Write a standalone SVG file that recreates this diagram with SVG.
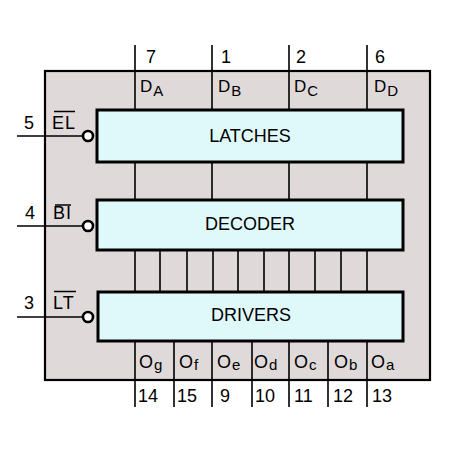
<svg xmlns="http://www.w3.org/2000/svg" width="459" height="457" viewBox="0 0 459 457">
<style>
.t{font-family:"Liberation Sans",Arial,sans-serif;fill:#000}
.big{font-size:18px}
.lab{font-size:17px}
.sub{font-size:15px}
.blk{fill:#dff9fb;stroke:#000;stroke-width:3}
.w{stroke:#000;stroke-width:1.6;fill:none}
.bub{fill:#fff;stroke:#000;stroke-width:2.6}
</style>
<rect width="459" height="457" fill="#fff"/>
<g id="package">
<rect x="45" y="71" width="385" height="309" fill="#dfd9d9" stroke="#000" stroke-width="2.2"/>
</g>
<g id="connectors">
<path class="w" d="M135 45V110M212 45V110M289 45V110M367 45V110"/>
<path class="w" d="M135 162V200M212 162V200M289 162V200M367 162V200"/>
<path class="w" d="M135 250V292M160 250V292M187 250V292M213 250V292M238 250V292M264 250V292M289 250V292M315 250V292M341 250V292M367 250V292"/>
<path class="w" d="M135 341V407M174 341V407M212 341V407M252 341V407M289 341V407M328 341V407M367 341V407"/>
<path class="w" d="M17 136H83M17 226H83M17 317H83"/>
<path class="w" d="M54 111.5H75M55 205H71M54 291.5H76"/>
</g>
<g id="latches">
<rect class="blk" x="97" y="110" width="306" height="52"/>
<text class="t big" x="250" y="142" text-anchor="middle">LATCHES</text>
</g>
<g id="decoder">
<rect class="blk" x="97" y="200" width="306" height="50"/>
<text class="t big" x="250" y="229.5" text-anchor="middle">DECODER</text>
</g>
<g id="drivers">
<rect class="blk" x="98" y="292" width="305" height="49"/>
<text class="t big" x="251" y="321" text-anchor="middle">DRIVERS</text>
</g>
<g id="inputs">
<circle class="bub" cx="88" cy="136" r="5"/>
<circle class="bub" cx="88" cy="226" r="5"/>
<circle class="bub" cx="88" cy="317" r="5"/>
<text class="t big" x="24" y="128.5">5</text>
<text class="t big" x="52" y="128.5" letter-spacing="1">EL</text>
<text class="t big" x="25" y="218.5">4</text>
<text class="t big" x="53" y="218.5" letter-spacing="1">BI</text>
<text class="t big" x="24" y="309">3</text>
<text class="t big" x="53" y="309" letter-spacing="1">LT</text>
</g>
<g id="top-pins">
<text class="t big" x="146" y="63">7</text>
<text class="t big" x="221" y="63">1</text>
<text class="t big" x="296" y="63">2</text>
<text class="t big" x="375" y="63">6</text>
<text class="t lab" x="140" y="92">D<tspan class="sub" dx="1" dy="4">A</tspan></text>
<text class="t lab" x="218" y="92">D<tspan class="sub" dx="1" dy="4">B</tspan></text>
<text class="t lab" x="294" y="92">D<tspan class="sub" dx="1" dy="4">C</tspan></text>
<text class="t lab" x="374" y="92">D<tspan class="sub" dx="1" dy="4">D</tspan></text>
</g>
<g id="bottom-pins">
<text class="t big" x="139" y="368">O<tspan class="sub" dx="1" dy="2">g</tspan></text>
<text class="t big" x="179" y="368">O<tspan class="sub" dx="1" dy="2">f</tspan></text>
<text class="t big" x="217" y="368">O<tspan class="sub" dx="1" dy="2">e</tspan></text>
<text class="t big" x="254" y="368">O<tspan class="sub" dx="1" dy="2">d</tspan></text>
<text class="t big" x="294" y="368">O<tspan class="sub" dx="1" dy="2">c</tspan></text>
<text class="t big" x="334" y="368">O<tspan class="sub" dx="1" dy="2">b</tspan></text>
<text class="t big" x="371" y="368">O<tspan class="sub" dx="1" dy="2">a</tspan></text>
<text class="t big" x="138" y="402">14</text>
<text class="t big" x="177" y="402">15</text>
<text class="t big" x="220" y="402">9</text>
<text class="t big" x="255" y="402">10</text>
<text class="t big" x="294" y="402">11</text>
<text class="t big" x="333" y="402">12</text>
<text class="t big" x="372" y="402">13</text>
</g>
</svg>
